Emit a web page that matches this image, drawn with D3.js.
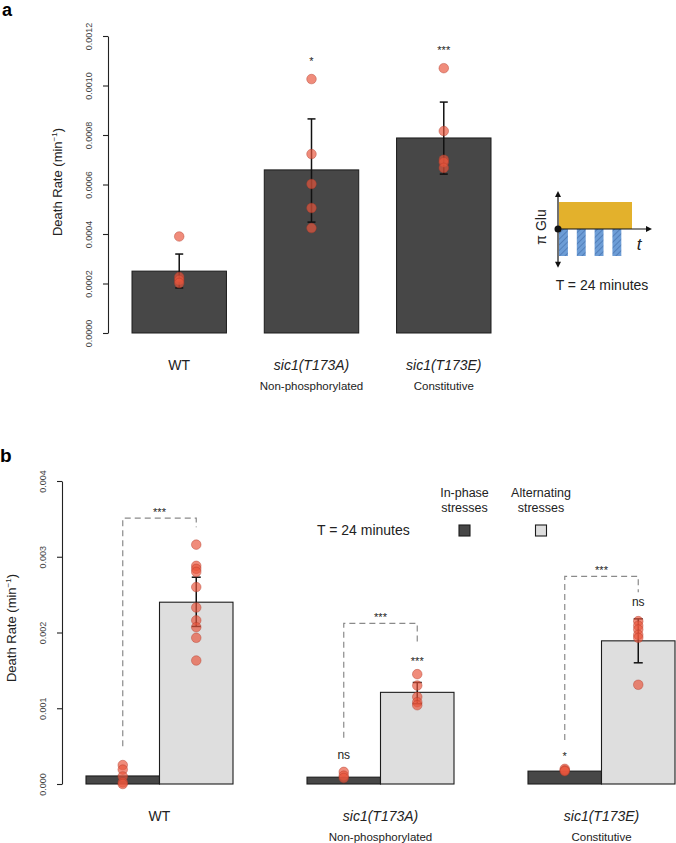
<!DOCTYPE html>
<html><head><meta charset="utf-8">
<script src="https://cdn.jsdelivr.net/npm/d3@7"></script>
<style>
html,body{margin:0;padding:0;background:#fff;}
svg{display:block;font-family:"Liberation Sans",Arial,Helvetica,sans-serif;}
</style></head>
<body>
<script>
// ---------- Panel a data ----------
const catsA = ["WT", "sic1(T173A)", "sic1(T173E)"];
const subA = ["", "Non-phosphorylated", "Constitutive"];
const italicA = [false, true, true];
const meanA = [0.00025, 0.000659, 0.000788];
const errLoA = [0.000182, 0.000448, 0.000642];
const errHiA = [0.000319, 0.000865, 0.000933];
const ptsA = [
  [0.00039, 0.000226, 0.000214, 0.000202],
  [0.001026, 0.000723, 0.000602, 0.000505, 0.000424],
  [0.00107, 0.000816, 0.0007, 0.00069, 0.000667]
];
const sigA = ["", "*", "***"];
const ticksA = [0, 0.0002, 0.0004, 0.0006, 0.0008, 0.0010, 0.0012];
const tickLabA = ["0.0000", "0.0002", "0.0004", "0.0006", "0.0008", "0.0010", "0.0012"];

// inset schematic (arbitrary time units)
const insetPulses = [0, 1, 2, 3];
const insetPulseWidth = 0.5;
const insetGoldEnd = 4.1;

// ---------- Panel b data ----------
const catsB = ["WT", "sic1(T173A)", "sic1(T173E)"];
const subB = ["", "Non-phosphorylated", "Constitutive"];
const series = ["inphase", "alternating"];
const seriesLabels = [["In-phase", "stresses"], ["Alternating", "stresses"]];
const inPhaseMean = [0.000106, 0.00009, 0.00017];
const altMean = [0.0024, 0.00121, 0.00189];
const altErrLo = [0.00208, 0.00106, 0.0016];
const altErrHi = [0.00273, 0.00134, 0.00218];
const inPhasePts = [
  [0.00025, 0.00019, 0.0001, 0.00002, 0.0],
  [0.00016, 0.00011, 0.00008],
  [0.0002, 0.00018, 0.00017]
];
const altPts = [
  [0.00316, 0.00288, 0.00284, 0.0028, 0.0026, 0.00233, 0.00216, 0.00207, 0.00193, 0.00163],
  [0.00145, 0.0013, 0.00115, 0.00108, 0.00104],
  [0.00215, 0.00209, 0.00204, 0.00197, 0.00193, 0.00131]
];
const sigInPhase = ["", "ns", "*"];
const sigAlt = ["", "***", "ns"];
const bracketTop = [0.00351, 0.00212, 0.00274];
const bracketLeftEnd = [0.0005, 0.00061, 0.00058];
const bracketRightEnd = [0.00339, 0.00187, 0.00253];
const bracketSig = ["***", "***", "***"];
const ticksB = [0, 0.001, 0.002, 0.003, 0.004];
const tickLabB = ["0.000", "0.001", "0.002", "0.003", "0.004"];

// ---------- drawing ----------
const W = 676, H = 843;
const svg = d3.select("body").append("svg").attr("width", W).attr("height", H);
const defs = svg.append("defs");
const pat = defs.append("pattern").attr("id", "hatch").attr("patternUnits", "userSpaceOnUse")
  .attr("width", 4).attr("height", 4).attr("patternTransform", "rotate(45)");
pat.append("rect").attr("width", 4).attr("height", 4).attr("fill", "#6d9dd6");
pat.append("line").attr("x1", 0).attr("y1", 0).attr("x2", 0).attr("y2", 4)
  .attr("stroke", "#3f6aa8").attr("stroke-width", 1.2);

const DARK = "#474747", LIGHT = "#dedede", EDGE = "#1c1c1c";
const PT_FILL = "#e9553d", PT_STROKE = "#b03a2a";

function styleAxis(g, offset) {
  g.select(".domain").attr("stroke", "#222").attr("stroke-width", 1.1);
  g.selectAll(".tick line").attr("stroke", "#222").attr("stroke-width", 1.1);
  g.selectAll(".tick text")
    .attr("x", 0).attr("dy", 0)
    .attr("transform", `translate(${offset},0) rotate(-90)`)
    .attr("text-anchor", "middle")
    .attr("font-size", 9).attr("fill", "#444")
    .attr("font-family", "Liberation Sans, Arial, sans-serif");
}

function yTitle(x, y) {
  const t = svg.append("text").attr("transform", `translate(${x},${y}) rotate(-90)`)
    .attr("text-anchor", "middle").attr("font-size", 13).attr("fill", "#222");
  t.append("tspan").text("Death Rate (min");
  t.append("tspan").text("\u22121").attr("font-size", 8).attr("dy", -5);
  t.append("tspan").text(")").attr("dy", 5);
}

function drawPoints(g, cx, vals, y) {
  g.selectAll(null).data(vals).enter().append("circle")
    .attr("cx", cx).attr("cy", d => y(d)).attr("r", 4.8)
    .attr("fill", PT_FILL).attr("fill-opacity", 0.68)
    .attr("stroke", PT_STROKE).attr("stroke-opacity", 0.6).attr("stroke-width", 0.7);
}

function errBar(g, cx, lo, hi, y, cap) {
  g.append("line").attr("x1", cx).attr("x2", cx).attr("y1", y(lo)).attr("y2", y(hi))
    .attr("stroke", "#111").attr("stroke-width", 1.5);
  [lo, hi].forEach(v => g.append("line").attr("x1", cx - cap / 2).attr("x2", cx + cap / 2)
    .attr("y1", y(v)).attr("y2", y(v)).attr("stroke", "#111").attr("stroke-width", 1.5));
}

// ===== Panel a =====
svg.append("text").attr("x", 2).attr("y", 16).attr("font-size", 18).attr("font-weight", "bold").text("a");
const yA = d3.scaleLinear().domain([0, 0.0012]).range([333, 36]);
const xA = d3.scaleBand().domain(catsA).range([132, 491]).paddingInner(0.286).paddingOuter(0);
const gA = svg.append("g");
const axA = svg.append("g").attr("transform", "translate(108,0)")
  .call(d3.axisLeft(yA).tickValues(ticksA).tickFormat((d, i) => tickLabA[i]).tickSize(5).tickSizeOuter(0));
styleAxis(axA, -16);
yTitle(62, 182);

catsA.forEach((c, i) => {
  const x0 = xA(c), bw = xA.bandwidth(), cx = x0 + bw / 2;
  gA.append("rect").attr("x", x0).attr("y", yA(meanA[i])).attr("width", bw)
    .attr("height", yA(0) - yA(meanA[i])).attr("fill", DARK).attr("stroke", EDGE).attr("stroke-width", 1);
  errBar(gA, cx, errLoA[i], errHiA[i], yA, 8);
  drawPoints(gA, cx, ptsA[i], yA);
  if (sigA[i]) {
    gA.append("text").attr("x", cx).attr("y", yA(d3.max(ptsA[i])) - 14)
      .attr("text-anchor", "middle").attr("font-size", 11).attr("fill", "#222").text(sigA[i]);
  }
  gA.append("text").attr("x", cx).attr("y", 370).attr("text-anchor", "middle")
    .attr("font-size", 14).attr("fill", "#222").attr("font-style", italicA[i] ? "italic" : "normal").text(c);
  if (subA[i]) gA.append("text").attr("x", cx).attr("y", 390).attr("text-anchor", "middle")
    .attr("font-size", 11.5).attr("fill", "#222").text(subA[i]);
});

// inset
const ix = d3.scaleLinear().domain([0, insetGoldEnd]).range([559, 632]);
const iy = d3.scaleLinear().domain([-1, 1]).range([256, 202]);
const gI = svg.append("g");
gI.append("rect").attr("x", ix(0)).attr("y", iy(1)).attr("width", ix(insetGoldEnd) - ix(0))
  .attr("height", iy(0) - iy(1)).attr("fill", "#e3b12c");
insetPulses.forEach(p => gI.append("rect").attr("x", ix(p)).attr("y", iy(0))
  .attr("width", ix(p + insetPulseWidth) - ix(p)).attr("height", iy(-1) - iy(0)).attr("fill", "url(#hatch)"));
const ax0 = ix(0) - 1;
gI.append("line").attr("x1", ax0).attr("x2", ax0).attr("y1", iy(-1.32)).attr("y2", iy(1.3)).attr("stroke", "#111").attr("stroke-width", 1.2);
gI.append("line").attr("x1", ax0).attr("x2", 649).attr("y1", iy(0)).attr("y2", iy(0)).attr("stroke", "#111").attr("stroke-width", 1.2);
gI.append("path").attr("d", `M${ax0},${iy(1.3) - 3} l-3,6 l6,0 z`).attr("fill", "#111");
gI.append("path").attr("d", `M${ax0},${iy(-1.32) + 3} l-3,-6 l6,0 z`).attr("fill", "#111");
gI.append("path").attr("d", `M652,${iy(0)} l-6,-3 l0,6 z`).attr("fill", "#111");
gI.append("circle").attr("cx", ax0).attr("cy", iy(0)).attr("r", 3.5).attr("fill", "#111");
gI.append("text").attr("transform", `translate(546,227) rotate(-90)`).attr("text-anchor", "middle")
  .attr("font-size", 14).attr("fill", "#222").text("\u03c0 Glu");
gI.append("text").attr("x", 639).attr("y", 250).attr("text-anchor", "middle").attr("font-size", 17)
  .attr("font-style", "italic").attr("fill", "#222").text("t");
gI.append("text").attr("x", 602).attr("y", 290).attr("text-anchor", "middle").attr("font-size", 14)
  .attr("fill", "#222").text("T = 24 minutes");

// ===== Panel b =====
svg.append("text").attr("x", 0).attr("y", 462).attr("font-size", 19).attr("font-weight", "bold").text("b");
const yB = d3.scaleLinear().domain([0, 0.004]).range([784, 481]);
const xB = d3.scaleBand().domain(catsB).range([86, 675]).paddingInner(74 / 221).paddingOuter(0);
const xSub = d3.scaleBand().domain(series).range([0, xB.bandwidth()]);
const axB = svg.append("g").attr("transform", "translate(62,0)")
  .call(d3.axisLeft(yB).tickValues(ticksB).tickFormat((d, i) => tickLabB[i]).tickSize(5).tickSizeOuter(0));
styleAxis(axB, -16);
yTitle(16, 628);

const gB = svg.append("g");
catsB.forEach((c, i) => {
  const g0 = xB(c), bw = xSub.bandwidth();
  const cIn = g0 + xSub("inphase") + bw / 2, cAlt = g0 + xSub("alternating") + bw / 2;
  // brackets
  const dash = "6,4";
  gB.append("path")
    .attr("d", `M${cIn},${yB(bracketLeftEnd[i])}V${yB(bracketTop[i])}H${cAlt}V${yB(bracketRightEnd[i])}`)
    .attr("fill", "none").attr("stroke", "#8a8a8a").attr("stroke-width", 1.2).attr("stroke-dasharray", dash);
  gB.append("text").attr("x", (cIn + cAlt) / 2).attr("y", yB(bracketTop[i]) - 2).attr("text-anchor", "middle")
    .attr("font-size", 11).attr("fill", "#222").text(bracketSig[i]);
  // bars
  gB.append("rect").attr("x", g0 + xSub("inphase")).attr("y", yB(inPhaseMean[i])).attr("width", bw)
    .attr("height", yB(0) - yB(inPhaseMean[i])).attr("fill", DARK).attr("stroke", EDGE).attr("stroke-width", 1.1);
  gB.append("rect").attr("x", g0 + xSub("alternating")).attr("y", yB(altMean[i])).attr("width", bw)
    .attr("height", yB(0) - yB(altMean[i])).attr("fill", LIGHT).attr("stroke", EDGE).attr("stroke-width", 1.1);
  errBar(gB, cAlt, altErrLo[i], altErrHi[i], yB, 9);
  drawPoints(gB, cIn, inPhasePts[i], yB);
  drawPoints(gB, cAlt, altPts[i], yB);
  if (sigInPhase[i]) {
    const top = yB(d3.max(inPhasePts[i])) - 13;
    gB.append("text").attr("x", cIn).attr("y", sigInPhase[i] === "ns" ? top : top + 4).attr("text-anchor", "middle")
      .attr("font-size", sigInPhase[i] === "ns" ? 12 : 11).attr("fill", "#222").text(sigInPhase[i]);
  }
  if (sigAlt[i]) {
    const top = yB(Math.max(d3.max(altPts[i]), altErrHi[i])) - 13;
    gB.append("text").attr("x", cAlt).attr("y", sigAlt[i] === "ns" ? top : top + 4).attr("text-anchor", "middle")
      .attr("font-size", sigAlt[i] === "ns" ? 12 : 11).attr("fill", "#222").text(sigAlt[i]);
  }
  const cx = g0 + xB.bandwidth() / 2;
  gB.append("text").attr("x", cx).attr("y", 821).attr("text-anchor", "middle")
    .attr("font-size", 14).attr("fill", "#222").attr("font-style", i > 0 ? "italic" : "normal").text(c);
  if (subB[i]) gB.append("text").attr("x", cx).attr("y", 841).attr("text-anchor", "middle")
    .attr("font-size", 11.5).attr("fill", "#222").text(subB[i]);
});

// legend
const lx = d3.scalePoint().domain(series).range([464.5, 541]);
svg.append("text").attr("x", 317).attr("y", 535).attr("font-size", 14).attr("fill", "#222").text("T = 24 minutes");
series.forEach((s, i) => {
  const cx = lx(s);
  svg.append("text").attr("x", cx).attr("y", 497).attr("text-anchor", "middle").attr("font-size", 12.5)
    .attr("fill", "#222").text(seriesLabels[i][0]);
  svg.append("text").attr("x", cx).attr("y", 512).attr("text-anchor", "middle").attr("font-size", 12.5)
    .attr("fill", "#222").text(seriesLabels[i][1]);
  svg.append("rect").attr("x", cx - 5.5).attr("y", 525).attr("width", 11).attr("height", 11)
    .attr("fill", i === 0 ? DARK : LIGHT).attr("stroke", EDGE).attr("stroke-width", 1.1);
});
</script>
</body></html>
